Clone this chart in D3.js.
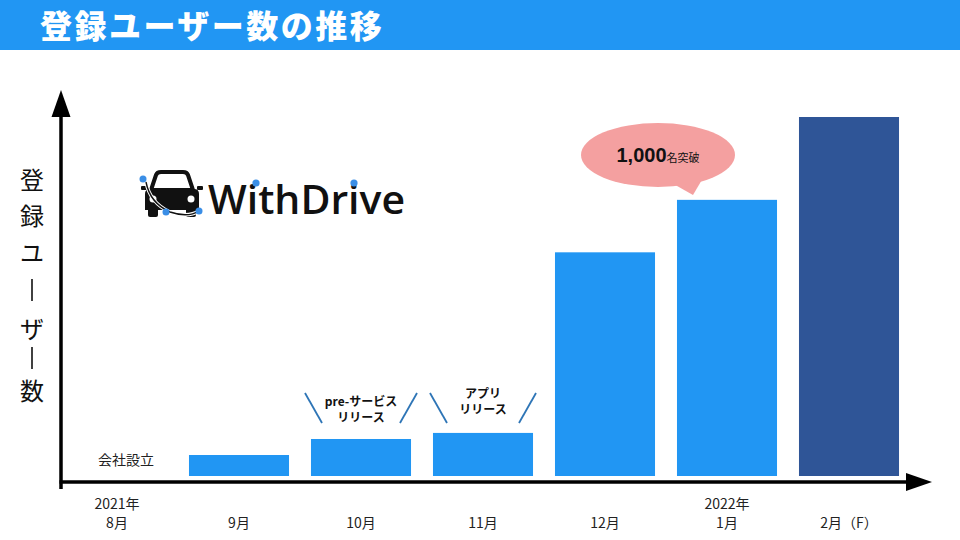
<!DOCTYPE html>
<html><head><meta charset="utf-8">
<script src="https://cdn.jsdelivr.net/npm/d3@7"></script>
<style>
html,body{margin:0;padding:0;background:#fff;}
svg{display:block;font-family:"Noto Sans CJK JP","Noto Sans",sans-serif;}
</style></head>
<body>
<svg id="chart" width="960" height="540"></svg>
<script>
const categories = ["8月","9月","10月","11月","12月","1月","2月（F）"];
const yearLabels = ["2021年","","","","","2022年",""];
const users = [0, 76, 134, 156, 810, 1000, 1300];
const forecast = [false,false,false,false,false,false,true];
const title = "登録ユーザー数の推移";
const yTitle = ["登","録","ユ","ー","ザ","ー","数"];

const svg = d3.select("#chart");
const x = d3.scaleBand().domain(categories).range([56, 910]).paddingInner(0.18).paddingOuter(0.09);
const y = d3.scaleLinear().domain([0, 1300]).range([476, 117]);

// title bar
svg.append("rect").attr("x",0).attr("y",0).attr("width",960).attr("height",50).attr("fill","#2196f3");
svg.append("text").attr("x",40).attr("y",38).attr("fill","#fff").attr("font-size",32).attr("font-weight",900)
  .attr("letter-spacing",2.5).text(title);

// bars
svg.append("g").selectAll("rect").data(categories).join("rect")
  .attr("x", d => x(d)).attr("width", x.bandwidth())
  .attr("y", (d,i) => y(users[i])).attr("height", (d,i) => y(0) - y(users[i]))
  .attr("fill", (d,i) => forecast[i] ? "#2f5597" : "#2196f3");

// axes
svg.append("line").attr("x1",61).attr("y1",489).attr("x2",61).attr("y2",117).attr("stroke","#000").attr("stroke-width",3.5);
svg.append("path").attr("d","M61,90L70.5,117L51.5,117Z").attr("fill","#000");
svg.append("line").attr("x1",59.5).attr("y1",482).attr("x2",908).attr("y2",482).attr("stroke","#000").attr("stroke-width",3.5);
svg.append("path").attr("d","M932,482L906,473L906,491Z").attr("fill","#000");

// y title (vertical)
const yPos = [178,214,251,290,327,358,389];
svg.append("g").selectAll("text").data(yTitle.map((d,i)=>({d,i})).filter(o=>o.d!=="ー")).join("text")
  .attr("x",32).attr("y",o=>yPos[o.i]).attr("text-anchor","middle").attr("dominant-baseline","central")
  .attr("font-size",24).attr("fill","#111").text(o=>o.d);
// long vowel marks drawn as vertical strokes (vertical writing)
svg.append("g").selectAll("line").data(yTitle.map((d,i)=>({d,i})).filter(o=>o.d==="ー")).join("line")
  .attr("x1",32).attr("x2",32).attr("y1",o=>yPos[o.i]-11).attr("y2",o=>yPos[o.i]+11)
  .attr("stroke","#111").attr("stroke-width",1.6);

// x labels
const xl = svg.append("g").attr("font-size",14).attr("fill","#222").attr("text-anchor","middle");
categories.forEach((c,i)=>{
  const cx = x(c) + x.bandwidth()/2;
  if (yearLabels[i]) xl.append("text").attr("x",cx).attr("y",509).text(yearLabels[i]);
  xl.append("text").attr("x",cx).attr("y",528).text(c);
});

// 会社設立
svg.append("text").attr("x", x(categories[0]) + x.bandwidth()/2 + 9).attr("y",465).attr("text-anchor","middle")
  .attr("font-size",14).attr("fill","#222").text("会社設立");

// release annotations
function release(cat, lines, top, lx){
  const cx = x(cat) + x.bandwidth()/2;
  const g = svg.append("g");
  lines.forEach((t,k)=> g.append("text").attr("x",cx).attr("y",top + k*16).attr("text-anchor","middle")
    .attr("font-size",12).attr("font-weight",700).attr("fill","#111").text(t));
  g.append("line").attr("x1",cx-lx-9).attr("y1",393).attr("x2",cx-lx+8).attr("y2",423).attr("stroke","#2e75b6").attr("stroke-width",1.8);
  g.append("line").attr("x1",cx+lx+9).attr("y1",393).attr("x2",cx+lx-8).attr("y2",423).attr("stroke","#2e75b6").attr("stroke-width",1.8);
}
release("10月", ["pre-サービス","リリース"], 406, 47);
release("11月", ["アプリ","リリース"], 398, 44);

// bubble
const bx = x("1月") + x.bandwidth()/2 - 69;
const bub = svg.append("g");
bub.append("path").attr("d",`M${bx+12},182L${bx+35},195L${bx+45},178Z`).attr("fill","#f4a0a0");
bub.append("ellipse").attr("cx",bx).attr("cy",155).attr("rx",77).attr("ry",32).attr("fill","#f4a0a0");
const bt = bub.append("text").attr("x",bx).attr("y",162).attr("text-anchor","middle").attr("fill","#111");
bt.append("tspan").attr("font-family","'Liberation Sans', Arial, sans-serif").attr("font-weight",700).attr("font-size",20).text("1,000");
bt.append("tspan").attr("font-size",11).text("名突破");

// logo
const logo = svg.append("g");
const car = logo.append("g").attr("fill","#111");
car.append("path").attr("d","M151,190 L156,175 Q157,172 161,172 L183,172 Q187,172 188,175 L193,190 Z")
  .attr("fill","none").attr("stroke","#111").attr("stroke-width",4);
car.append("path").attr("d","M145,194 Q145,189 150,189 L194,189 Q199,189 199,194 L199,210 L145,210 Z");
car.append("rect").attr("x",148).attr("y",206).attr("width",10).attr("height",11).attr("rx",2);
car.append("rect").attr("x",186).attr("y",206).attr("width",10).attr("height",11).attr("rx",2);
car.append("rect").attr("x",141).attr("y",186).attr("width",6).attr("height",4).attr("rx",1);
car.append("rect").attr("x",197).attr("y",186).attr("width",6).attr("height",4).attr("rx",1);
car.append("circle").attr("cx",153).attr("cy",199).attr("r",3.5).attr("fill","#fff");
car.append("circle").attr("cx",191).attr("cy",199).attr("r",3.5).attr("fill","#fff");
logo.append("path").attr("d","M146,182 Q150,203 170,212 Q188,218 199,211")
  .attr("fill","none").attr("stroke","#fff").attr("stroke-width",3.5);
logo.append("path").attr("d","M146,182 Q150,203 170,212 Q188,218 199,211")
  .attr("fill","none").attr("stroke","#111").attr("stroke-width",1.4);
[[143,179],[166,212],[199,211]].forEach(p=>logo.append("circle").attr("cx",p[0]).attr("cy",p[1]).attr("r",3.5).attr("fill","#3a8ee6"));
logo.append("text").attr("x",208).attr("y",214).attr("font-family","'Open Sans', sans-serif").attr("font-weight",600)
  .attr("font-size",40).attr("fill","#111").attr("textLength",197).attr("lengthAdjust","spacingAndGlyphs").text("WithDrive");
[[256,183],[354,183]].forEach(p=>logo.append("circle").attr("cx",p[0]).attr("cy",p[1]).attr("r",3.6).attr("fill","#3a8ee6"));
</script>
</body></html>
